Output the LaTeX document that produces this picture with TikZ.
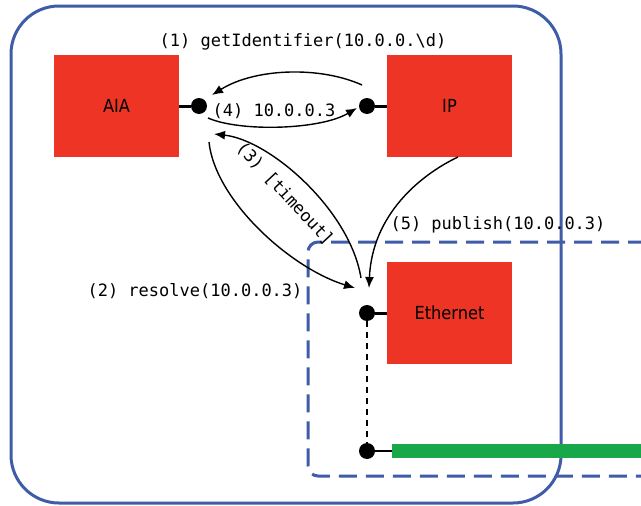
\documentclass[tikz,border=0pt]{standalone}
\usepackage{fontspec}
\newfontfamily\monof{DejaVu Sans Mono}
\newfontfamily\boxf{DejaVu Sans Condensed}
\usetikzlibrary{arrows.meta,calc}
\definecolor{boxred}{RGB}{238,52,36}
\definecolor{frameblue}{RGB}{63,92,168}
\definecolor{wiregreen}{RGB}{24,168,74}
\begin{document}
\begin{tikzpicture}[x=1pt,y=-1pt,
  redbox/.style={fill=boxred, minimum width=125pt, minimum height=102pt, inner sep=0pt,
    font=\boxf\fontsize{18}{21}\selectfont},
  portdot/.style={circle, fill=black, minimum size=16pt, inner sep=0pt},
  portline/.style={line width=3pt},
  conn/.style={line width=1.4pt, -{Latex[length=11pt,width=9pt]}},
  lbl/.style={font=\monof\fontsize{17}{20}\selectfont, inner sep=0pt},
  frame/.style={draw=frameblue, line width=3pt}
]
\useasboundingbox (0,0) rectangle (641,506);
% frames
\draw[frame, rounded corners=48pt] (11,6) rectangle (561,503);
\draw[frame, dash pattern=on 18pt off 9pt, rounded corners=10pt]
  (700,242) -- (308,242) -- (308,476) -- (700,476);
% boxes
\node[redbox] (aia) at (116.5,106) {AIA};
\node[redbox] (ip) at (449.5,106) {IP};
\node[redbox] (eth) at (449.5,313) {Ethernet};
% bus
\node[fill=wiregreen, minimum width=260pt, minimum height=14pt, inner sep=0pt, anchor=west] (bus) at (392,451) {};
% ports
\node[portdot] (aiadot) at (199,106) {};
\node[portdot] (ipdot) at (367,106) {};
\node[portdot] (ethdot) at (367,313) {};
\node[portdot] (busdot) at (367,451) {};
\draw[portline] (aia.east) -- (aiadot);
\draw[portline] (ipdot) -- (ip.west);
\draw[portline] (ethdot) -- (eth.west);
\draw[line width=1.5pt] (busdot) -- (bus.west);
\draw[line width=1.5pt, dash pattern=on 6pt off 5pt] (ethdot) -- (busdot);
% connector end points
\coordinate (s1) at (362,85);  \coordinate (e1) at (212,95);
\coordinate (s4) at (208,118); \coordinate (e4) at (357,108);
\coordinate (s3) at (361,278); \coordinate (e3) at (214,134);
\coordinate (s2) at (209,142); \coordinate (e2) at (355,288);
\coordinate (e5) at (369,288);
% connectors
\draw[conn] (s1) .. controls (320,66) and (255,68) .. (e1);
\draw[conn] (s4) .. controls (240,132) and (320,130) .. (e4);
\draw[conn] (s3) .. controls (350,210) and (270,140) .. (e3);
\draw[conn] (s2) .. controls (215,200) and (290,268) .. (e2);
\draw[conn] (458,157) .. controls (420,175) and (372,215) .. (e5);
% labels
\node[lbl] (l1) at (303,42) {(1) getIdentifier(10.0.0.\textbackslash d)};
\node[lbl] (l4) at (274,111) {(4) 10.0.0.3};
\node[lbl, rotate=-47] (l3) at (285,194) {(3) [timeout]};
\node[lbl] (l2) at (195,291) {(2) resolve(10.0.0.3)};
\node[lbl] (l5) at (498,225) {(5) publish(10.0.0.3)};
\end{tikzpicture}
\end{document}
